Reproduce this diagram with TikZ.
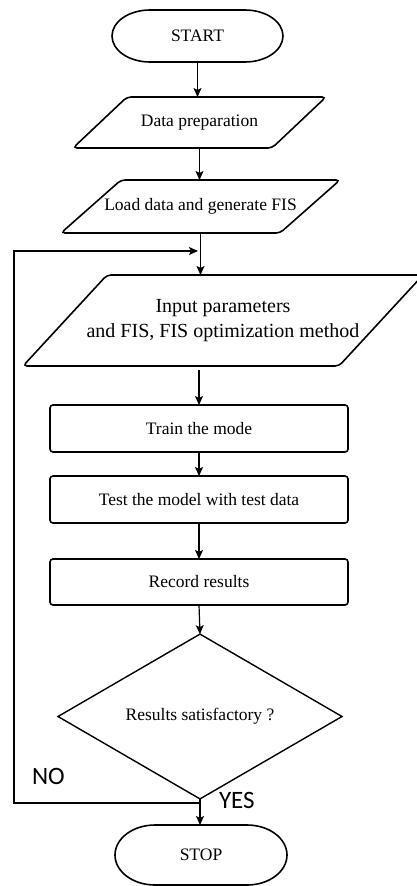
\documentclass[tikz,border=0pt]{standalone}
\usepackage{fontspec}
\setmainfont{Liberation Serif}
\newfontfamily\lblfont{Carlito}
\usetikzlibrary{shapes.geometric,arrows.meta,calc}
\begin{document}
\begin{tikzpicture}[x=1pt,y=-1pt,
  every node/.style={inner sep=0pt, outer sep=0pt},
  txt/.style={font=\fontsize{17.5}{21}\selectfont},
  term/.style={txt, draw=none},
  termline/.style={line width=1.6pt},
  procbox/.style={txt, draw, line width=1.6pt, rounded corners=3pt, minimum width=298pt},
  iobox/.style={txt, draw=none},
  ioline/.style={line width=1.6pt, rounded corners=4pt},
  decide/.style={txt, draw, diamond, line width=1.4pt, minimum width=284pt, minimum height=133pt},
  arr/.style={line width=1.2pt, -{Stealth[length=9pt,width=8pt,inset=2pt]}},
  lbl/.style={font=\lblfont\fontsize{25}{30}\selectfont}
]
\useasboundingbox (0,0) rectangle (416,886);

% nodes
\node[term, minimum width=171pt, minimum height=52pt] (start) at (197.5,36) {START};
\node[iobox, minimum width=199pt, minimum height=51pt] (prep) at (199.5,122.5) {Data preparation};
\node[iobox, minimum width=219pt, minimum height=53pt] (load) at (200.5,206.5) {Load data and generate FIS};
\node[iobox, minimum width=316pt, minimum height=91pt, align=center,
      font=\fontsize{20}{25}\selectfont] (inp) at (223,320.5) {Input parameters\\and FIS, FIS optimization method};
\node[procbox, minimum height=47pt] (train) at (199,428.5) {Train the mode};
\node[procbox, minimum height=47pt] (test) at (199,499.5) {Test the model with test data};
\node[procbox, minimum height=46pt] (rec) at (199,582) {Record results};
\node[decide] (dec) at (200,716.5) {Results satisfactory ?};
\node[term, minimum width=172pt, minimum height=60pt] (stop) at (201,855) {STOP};

% terminal outlines (flat top and bottom, elliptical ends)
\draw[termline] ($(start.north west)+(38,0)$) -- ($(start.north east)+(-38,0)$)
  arc[start angle=90, end angle=-90, x radius=38pt, y radius=26pt]
  -- ($(start.south west)+(38,0)$)
  arc[start angle=-90, end angle=-270, x radius=38pt, y radius=26pt] -- cycle;
\draw[termline] ($(stop.north west)+(40,0)$) -- ($(stop.north east)+(-40,0)$)
  arc[start angle=90, end angle=-90, x radius=40pt, y radius=30pt]
  -- ($(stop.south west)+(40,0)$)
  arc[start angle=-90, end angle=-270, x radius=40pt, y radius=30pt] -- cycle;

% parallelogram outlines
\draw[ioline] ($(prep.south west)+(-27,0)$) -- ($(prep.south east)+(-27,0)$)
   -- ($(prep.north east)+(27,0)$) -- ($(prep.north west)+(27,0)$) -- cycle;
\draw[ioline] ($(load.south west)+(-30,0)$) -- ($(load.south east)+(-30,0)$)
   -- ($(load.north east)+(30,0)$) -- ($(load.north west)+(30,0)$) -- cycle;
\draw[ioline] ($(inp.south west)+(-42,0)$) -- ($(inp.south east)+(-42,0)$)
   -- ($(inp.north east)+(42,0)$) -- ($(inp.north west)+(42,0)$) -- cycle;

% connectors
\draw[arr] (start.south) -- (start.south |- prep.north);
\draw[arr] (prep.south) -- (prep.south |- load.north);
\draw[arr] (load.south) -- (load.south |- inp.north);
\draw[arr] ($(train.north |- inp.south)+(0,4)$) -- (train.north);
\draw[arr] (train.south) -- (test.north);
\draw[arr] (test.south) -- (rec.north);
\draw[arr] (rec.south) -- (dec.north);
\draw[arr] (dec.south) -- (dec.south |- stop.north);

% feedback loop
\coordinate (jn) at (200,803);
\coordinate (jl) at (14,803);
\coordinate (jt) at (14,251);
\coordinate (jin) at (198,251);
\draw[arr] (jn) -- (jl) -- (jt) -- (jin);

% labels
\node[lbl, anchor=base west] (no) at (32,784) {NO};
\node[lbl, anchor=base west] (yes) at (219,808) {YES};
\end{tikzpicture}
\end{document}
